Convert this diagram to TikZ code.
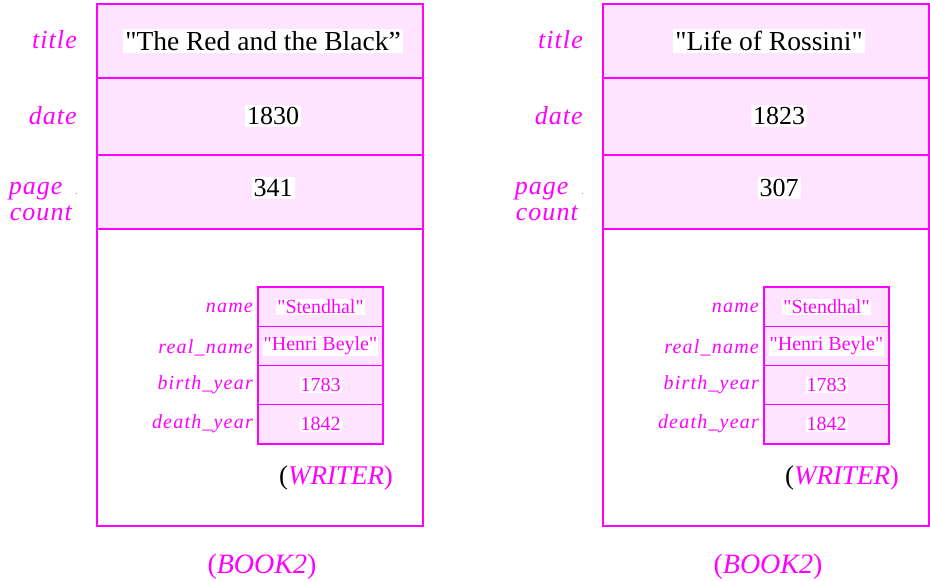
\documentclass[tikz,border=0pt]{standalone}
\usepackage{fontspec}
\setmainfont{Liberation Serif}
\usetikzlibrary{positioning}
\definecolor{mag}{RGB}{255,0,255}
\definecolor{pinkfill}{RGB}{255,228,255}
\newcommand{\dq}{\textquotedbl}
\tikzset{
  cell/.style={draw=mag, line width=1.2pt, fill=pinkfill, minimum width=326pt, inner sep=0pt},
  attr/.style={cell, minimum width=125pt, minimum height=39.25pt},
  val/.style={fill=white, inner sep=2pt, font=\fontsize{26}{30}\selectfont},
  sval/.style={fill=white, inner sep=1pt, text=mag, font=\fontsize{20}{24}\selectfont},
  lab/.style={text=mag, anchor=east, inner sep=0pt, font=\fontsize{26}{26}\selectfont\itshape\addfontfeature{LetterSpace=4}},
  slab/.style={text=mag, anchor=east, inner sep=0pt, font=\fontsize{20}{22}\selectfont\itshape\addfontfeature{LetterSpace=6}},
  typ/.style={text=mag, font=\fontsize{27}{28}\selectfont}
}
\newcommand{\bookpanel}[5]{
  \begin{scope}[xshift=#2]
    % book record
    \node[cell, fill=white, minimum height=297pt] (#1body) at (260,377.5) {};
    \node[cell, minimum height=74pt] (#1title) at (260,41) {};
    \node[cell, minimum height=77pt] (#1date) at (260,116.5) {};
    \node[cell, minimum height=74pt] (#1pages) at (260,192) {};
    \node[val, font=\fontsize{27.5}{30}\selectfont] (#1titlev) at (263,41) {#3};
    \node[val] (#1datev) at (273,116) {#4};
    \node[val] (#1pagesv) at (273,188) {#5};
    \node[lab] (#1titlel) at (77,40) {title};
    \node[lab] (#1datel) at (77,116) {date};
    \node[lab, align=right] (#1pagesl) at (78,202) {page\hspace*{13pt}{\fontsize{9}{9}\selectfont.}\\count\hspace*{6pt}};
    % writer record
    \node[attr] (#1name) at (320.5,306.6) {};
    \node[attr] (#1real) at (320.5,345.9) {};
    \node[attr] (#1birth) at (320.5,385.1) {};
    \node[attr] (#1death) at (320.5,424.4) {};
    \node[sval] at (#1name) {\dq Stendhal\dq};
    \node[sval] at (#1real) {\dq Henri Beyle\dq};
    \node[sval] at (#1birth) {1783};
    \node[sval] at (#1death) {1842};
    \node[slab] at (253,308) {name};
    \node[slab] at (253,348) {real\_name};
    \node[slab] at (253,385) {birth\_year};
    \node[slab] at (253,424) {death\_year};
    \node[typ] (#1writer) at (336,478) {\textcolor{black}{(}\textit{WRITER})};
    \node[typ, font=\fontsize{28}{30}\selectfont] (#1book) at (262,567) {(\textit{BOOK2})};
  \end{scope}
}

\begin{document}
\begin{tikzpicture}[x=1pt,y=-1pt]
  \useasboundingbox (0,0) rectangle (930,581);
  \bookpanel{L}{0pt}{\dq The Red and the Black”}{1830}{341}
  \bookpanel{R}{506pt}{\dq Life of Rossini\dq}{1823}{307}
\end{tikzpicture}
\end{document}
